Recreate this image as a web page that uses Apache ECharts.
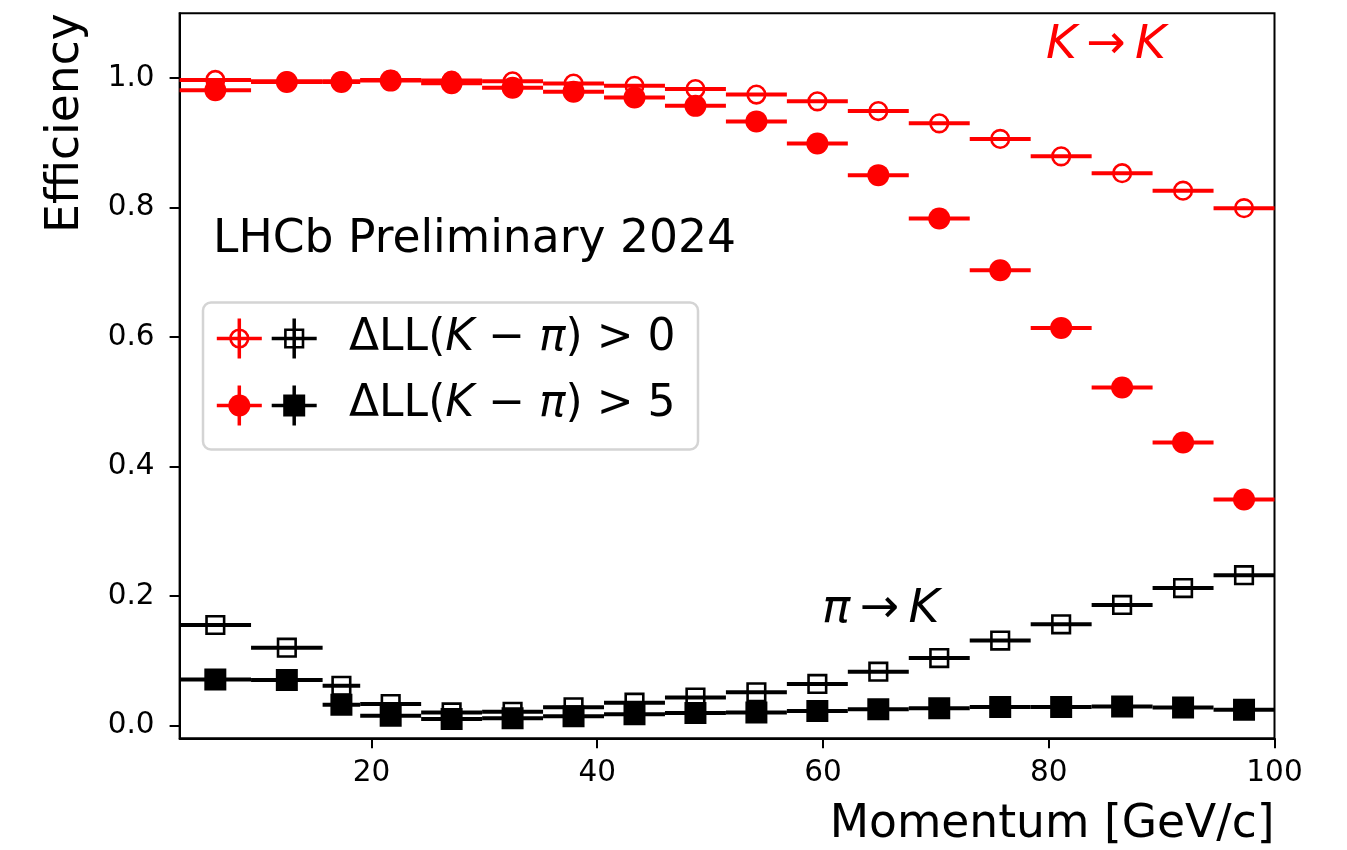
<!DOCTYPE html>
<html>
<head>
<meta charset="utf-8">
<script src="https://cdn.jsdelivr.net/npm/echarts@6/dist/echarts.min.js"></script>
<style>
  html, body { margin: 0; padding: 0; background: #fff; }
  #chart { width: 1347px; height: 850px; }
</style>
</head>
<body>
<div id="chart"></div>
<script>
// Momentum bin edges [GeV/c]
const binEdges = [3, 9.33, 15.67, 19, 24.4, 29.8, 35.2, 40.6, 46, 51.4, 56.8, 62.2, 67.6, 73, 78.4, 83.8, 89.2, 94.6, 100];

// K -> K efficiency, DLL(K-pi) > 0
const kToKLoose = [0.997, 0.995, 0.995, 0.997, 0.996, 0.995, 0.9915, 0.988, 0.983, 0.9745, 0.964, 0.949, 0.930, 0.906, 0.879, 0.853, 0.826, 0.799];
// K -> K efficiency, DLL(K-pi) > 5
const kToKTight = [0.981, 0.994, 0.994, 0.996, 0.992, 0.985, 0.979, 0.970, 0.957, 0.933, 0.899, 0.850, 0.783, 0.703, 0.614, 0.522, 0.437, 0.349];
// pi -> K misidentification, DLL(K-pi) > 0
const piToKLoose = [0.155, 0.120, 0.061, 0.033, 0.020, 0.021, 0.028, 0.035, 0.043, 0.051, 0.064, 0.083, 0.104, 0.131, 0.156, 0.186, 0.212, 0.232];
// pi -> K misidentification, DLL(K-pi) > 5
const piToKTight = [0.071, 0.070, 0.032, 0.015, 0.010, 0.011, 0.014, 0.017, 0.019, 0.020, 0.022, 0.025, 0.0265, 0.0285, 0.0285, 0.029, 0.0275, 0.024];

const xTickValues = [20, 40, 60, 80, 100];
const yTickValues = [0, 0.2, 0.4, 0.6, 0.8, 1.0];

const FONT = 'DejaVu Sans';
const RED = '#ff0000';
const BLACK = '#000000';
const TITLE_SIZE = 45.6;

// rows: [bin low, bin high, bin centre, value]
function binned(values) {
  return values.map((v, i) => [binEdges[i], binEdges[i + 1], (binEdges[i] + binEdges[i + 1]) / 2, v]);
}

function markerShape(cx, cy, color, marker, filled, z) {
  if (marker === 'circle') {
    return filled
      ? { type: 'circle', z: z, shape: { cx: cx, cy: cy, r: 11 }, style: { fill: color } }
      : { type: 'circle', z: z, shape: { cx: cx, cy: cy, r: 8.8 }, style: { fill: null, stroke: color, lineWidth: 2.6 } };
  }
  return filled
    ? { type: 'rect', z: z, shape: { x: cx - 11, y: cy - 11, width: 22, height: 22 }, style: { fill: color } }
    : { type: 'rect', z: z, shape: { x: cx - 8.8, y: cy - 8.8, width: 17.6, height: 17.6 }, style: { fill: null, stroke: color, lineWidth: 2.6 } };
}

// horizontal bin-width bar plus a marker at the bin centre
function errorbarSeries(name, values, color, marker, filled) {
  return {
    name: name,
    type: 'custom',
    data: binned(values),
    encode: { x: [0, 1, 2], y: 3 },
    clip: true,
    renderItem: function (params, api) {
      const y = api.value(3);
      const lo = api.coord([api.value(0), y]);
      const hi = api.coord([api.value(1), y]);
      const c = api.coord([api.value(2), y]);
      const bar = {
        type: 'line',
        shape: { x1: lo[0], y1: lo[1], x2: hi[0], y2: hi[1] },
        style: { stroke: color, lineWidth: 4 }
      };
      const m = markerShape(c[0], c[1], color, marker, filled);
      delete m.z;
      return { type: 'group', children: [bar, m] };
    }
  };
}

// legend swatch: error-bar cross with marker
function legendSwatch(cx, cy, color, marker, filled) {
  return [
    { type: 'line', z: 21, shape: { x1: cx - 22.5, y1: cy, x2: cx + 22.5, y2: cy }, style: { stroke: color, lineWidth: 3.5 } },
    { type: 'line', z: 21, shape: { x1: cx, y1: cy - 20, x2: cx, y2: cy + 20 }, style: { stroke: color, lineWidth: 3.5 } },
    markerShape(cx, cy, color, marker, filled, 22)
  ];
}

const mathRich = {
  n: { fontFamily: FONT, fontSize: 44, fill: BLACK },
  i: { fontFamily: FONT, fontSize: 44, fontStyle: 'italic', fill: BLACK }
};

const chart = echarts.init(document.getElementById('chart'), null, { renderer: 'canvas' });

chart.setOption({
  animation: false,
  backgroundColor: '#ffffff',
  grid: {
    left: 179.6, right: 72.5, top: 13.3, bottom: 111.7,
    show: true, borderColor: BLACK, borderWidth: 2, backgroundColor: 'transparent'
  },
  xAxis: {
    type: 'value', min: 3, max: 100,
    axisLine: { onZero: false, lineStyle: { color: BLACK, width: 2 } },
    axisTick: { show: true, length: 10, lineStyle: { color: BLACK, width: 2 }, customValues: xTickValues },
    axisLabel: { color: BLACK, fontFamily: FONT, fontSize: 29.5, margin: 20, customValues: xTickValues, formatter: v => String(v) },
    splitLine: { show: false }
  },
  yAxis: {
    type: 'value', min: -0.02, max: 1.1,
    axisLine: { show: true, onZero: false, lineStyle: { color: BLACK, width: 2 } },
    axisTick: { show: true, length: 10, lineStyle: { color: BLACK, width: 2 }, customValues: yTickValues },
    axisLabel: { color: BLACK, fontFamily: FONT, fontSize: 29.5, margin: 25, customValues: yTickValues, formatter: v => v.toFixed(1) },
    splitLine: { show: false }
  },
  series: [
    errorbarSeries('K→K ΔLL>0', kToKLoose, RED, 'circle', false),
    errorbarSeries('π→K ΔLL>0', piToKLoose, BLACK, 'square', false),
    errorbarSeries('K→K ΔLL>5', kToKTight, RED, 'circle', true),
    errorbarSeries('π→K ΔLL>5', piToKTight, BLACK, 'square', true)
  ],
  graphic: [
    // axis titles
    {
      type: 'text', x: 66, y: 13.3, rotation: Math.PI / 2,
      style: { text: 'Efficiency', fontFamily: FONT, fontSize: TITLE_SIZE, fill: BLACK, align: 'right', verticalAlign: 'middle' }
    },
    {
      type: 'text', x: 1274.5, y: 825,
      style: { text: 'Momentum [GeV/c]', fontFamily: FONT, fontSize: TITLE_SIZE, fill: BLACK, align: 'right', verticalAlign: 'middle' }
    },
    // annotations
    {
      type: 'text', x: 213, y: 240.5,
      style: { text: 'LHCb Preliminary 2024', fontFamily: FONT, fontSize: TITLE_SIZE, fill: BLACK, align: 'left', verticalAlign: 'middle' }
    },
    {
      type: 'text', x: 1046, y: 46,
      style: {
        text: '{i|K}{n|\u2009→\u2009}{i|K}', align: 'left', verticalAlign: 'middle',
        rich: {
          n: { fontFamily: FONT, fontSize: 47, fill: RED },
          i: { fontFamily: FONT, fontSize: 47, fontStyle: 'italic', fill: RED }
        }
      }
    },
    {
      type: 'text', x: 822, y: 610,
      style: {
        text: '{i|π}{n|\u2009→\u2009}{i|K}', align: 'left', verticalAlign: 'middle',
        rich: {
          n: { fontFamily: FONT, fontSize: 47, fill: BLACK },
          i: { fontFamily: FONT, fontSize: 47, fontStyle: 'italic', fill: BLACK }
        }
      }
    },
    // legend frame
    {
      type: 'rect', z: 20, shape: { x: 203, y: 302.5, width: 495, height: 147, r: 8 },
      style: { fill: 'rgba(255,255,255,0.8)', stroke: '#d4d4d4', lineWidth: 2.5 }
    }
  ].concat(
    legendSwatch(239.3, 338.5, RED, 'circle', false),
    legendSwatch(294.2, 338.5, BLACK, 'square', false),
    legendSwatch(239.3, 405.5, RED, 'circle', true),
    legendSwatch(294.2, 405.5, BLACK, 'square', true),
    [
      {
        type: 'text', x: 349, y: 338.5, z: 22,
        style: { text: '{n|ΔLL(}{i|K}{n| − }{i|π}{n|) > 0}', align: 'left', verticalAlign: 'middle', rich: mathRich }
      },
      {
        type: 'text', x: 349, y: 405, z: 22,
        style: { text: '{n|ΔLL(}{i|K}{n| − }{i|π}{n|) > 5}', align: 'left', verticalAlign: 'middle', rich: mathRich }
      }
    ]
  )
});
</script>
</body>
</html>
